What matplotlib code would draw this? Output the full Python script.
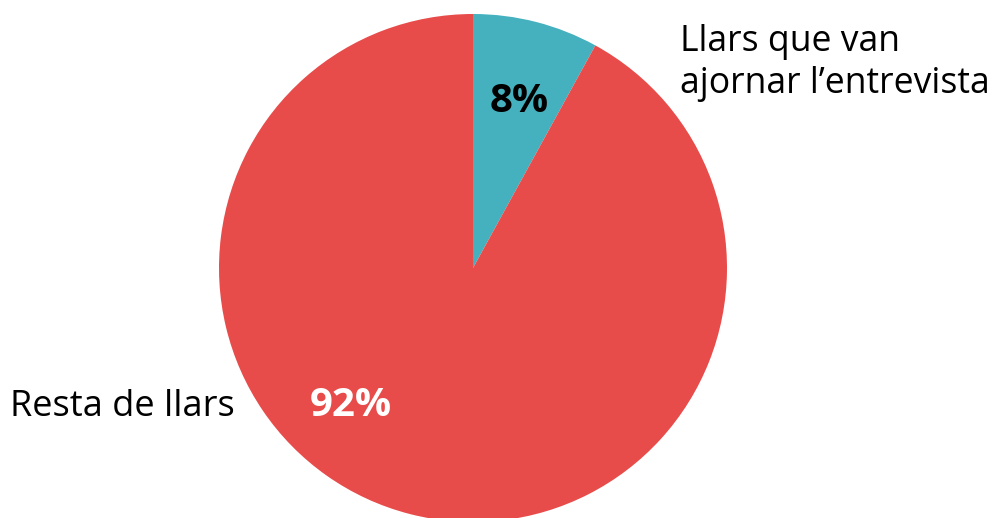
import matplotlib.pyplot as plt

# Share of households
labels = ["Llars que van\najornar l\u2019entrevista", "Resta de llars"]
shares = [8, 92]
colors = ["#45b1bf", "#e84c4a"]

plt.rcParams['font.family'] = ['Open Sans', 'DejaVu Sans']

fig = plt.figure(figsize=(9.98, 5.18), dpi=100)
ax = fig.add_axes([0, 0, 1, 1])

# pie centre and radius in pixel units
cx, cy, r = 473, 250, 254
ax.pie(shares, colors=colors, startangle=90, counterclock=False,
       center=(cx, cy), radius=r, frame=True,
       wedgeprops=dict(linewidth=0))
ax.set_xlim(0, 998)
ax.set_ylim(0, 518)
ax.set_aspect('equal')
ax.axis('off')

ax.text(519, 518 - 101, f"{shares[0]}%", ha='center', va='center',
        fontsize=29, fontweight='bold', color='black')
ax.text(351, 518 - 406, f"{shares[1]}%", ha='center', va='center',
        fontsize=29, fontweight='bold', color='white')

ax.text(680, 518 - 63, labels[0], ha='left', va='center',
        fontsize=25.6, color='black', linespacing=1.22)
ax.text(10, 518 - 407, labels[1], ha='left', va='center',
        fontsize=26, color='black')

fig.savefig('out.png', dpi=100)
